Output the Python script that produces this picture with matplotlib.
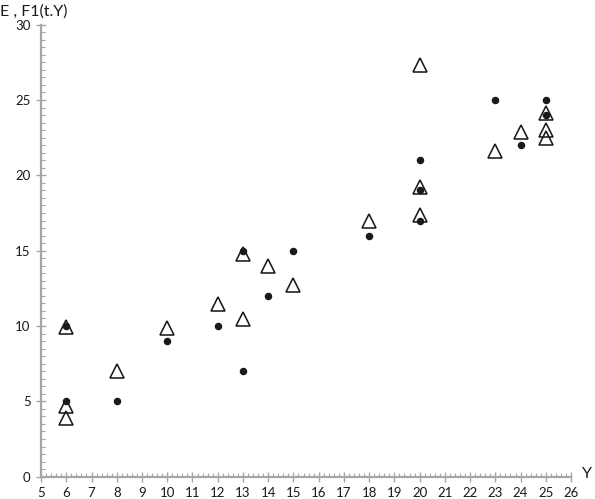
import matplotlib
matplotlib.use("Agg")
import matplotlib.pyplot as plt
from matplotlib.ticker import MultipleLocator

plt.rcParams['font.family'] = ['Lato', 'DejaVu Sans']

# observed E values (dots)
e_x = [6, 6, 8, 10, 12, 13, 13, 14, 15, 18, 20, 20, 20, 23, 24, 25, 25]
e_y = [10, 5, 5, 9, 10, 15, 7, 12, 15, 16, 21, 19, 17, 25, 22, 25, 24]

# fitted F1(t.Y) values (triangles)
f_x = [6, 6, 6, 8, 10, 12, 13, 13, 14, 15, 18, 20, 20, 20, 23, 24, 25, 25, 25]
f_y = [9.95, 4.7, 3.9, 7.0, 9.9, 11.45, 14.75, 10.45, 14.0, 12.75, 17.0,
       27.35, 19.2, 17.35, 21.65, 22.9, 24.15, 23.0, 22.5]

x_ticks = list(range(5, 27))
y_ticks = [0, 5, 10, 15, 20, 25, 30]

fig = plt.figure(figsize=(5.95, 4.99), dpi=100)
ax = fig.add_axes([0.069, 0.0447, 0.8907, 0.9058])

ax.plot(e_x, e_y, 'o', color='#1a1a1a', markersize=4.4, linestyle='none', zorder=3)
ax.plot(f_x, f_y, '^', markerfacecolor='none', markeredgecolor='#1a1a1a',
        markersize=9.5, markeredgewidth=1.15, linestyle='none', zorder=4)

ax.set_xlim(5, 26)
ax.set_ylim(0, 30)
ax.set_xticks(x_ticks)
ax.set_yticks(y_ticks)
ax.xaxis.set_minor_locator(MultipleLocator(0.2))
ax.yaxis.set_minor_locator(MultipleLocator(0.5))

for s in ['top', 'right']:
    ax.spines[s].set_visible(False)
for s in ['left', 'bottom']:
    ax.spines[s].set_color('#a6a6a6')
    ax.spines[s].set_linewidth(1.6)

ax.tick_params(which='major', direction='inout', length=7, width=1, color='#a6a6a6',
               labelsize=9.5, labelcolor='#1a1a1a', pad=4)
ax.tick_params(which='minor', direction='in', length=3, width=0.8, color='#a6a6a6')

fig.text(0.0, 0.976, 'E , F1(t.Y)', fontsize=11.5, color='#1a1a1a', va='center', ha='left')
fig.text(0.995, 0.05, 'Y', fontsize=11.5, color='#1a1a1a', va='center', ha='right')

fig.savefig('out.png', dpi=100)
